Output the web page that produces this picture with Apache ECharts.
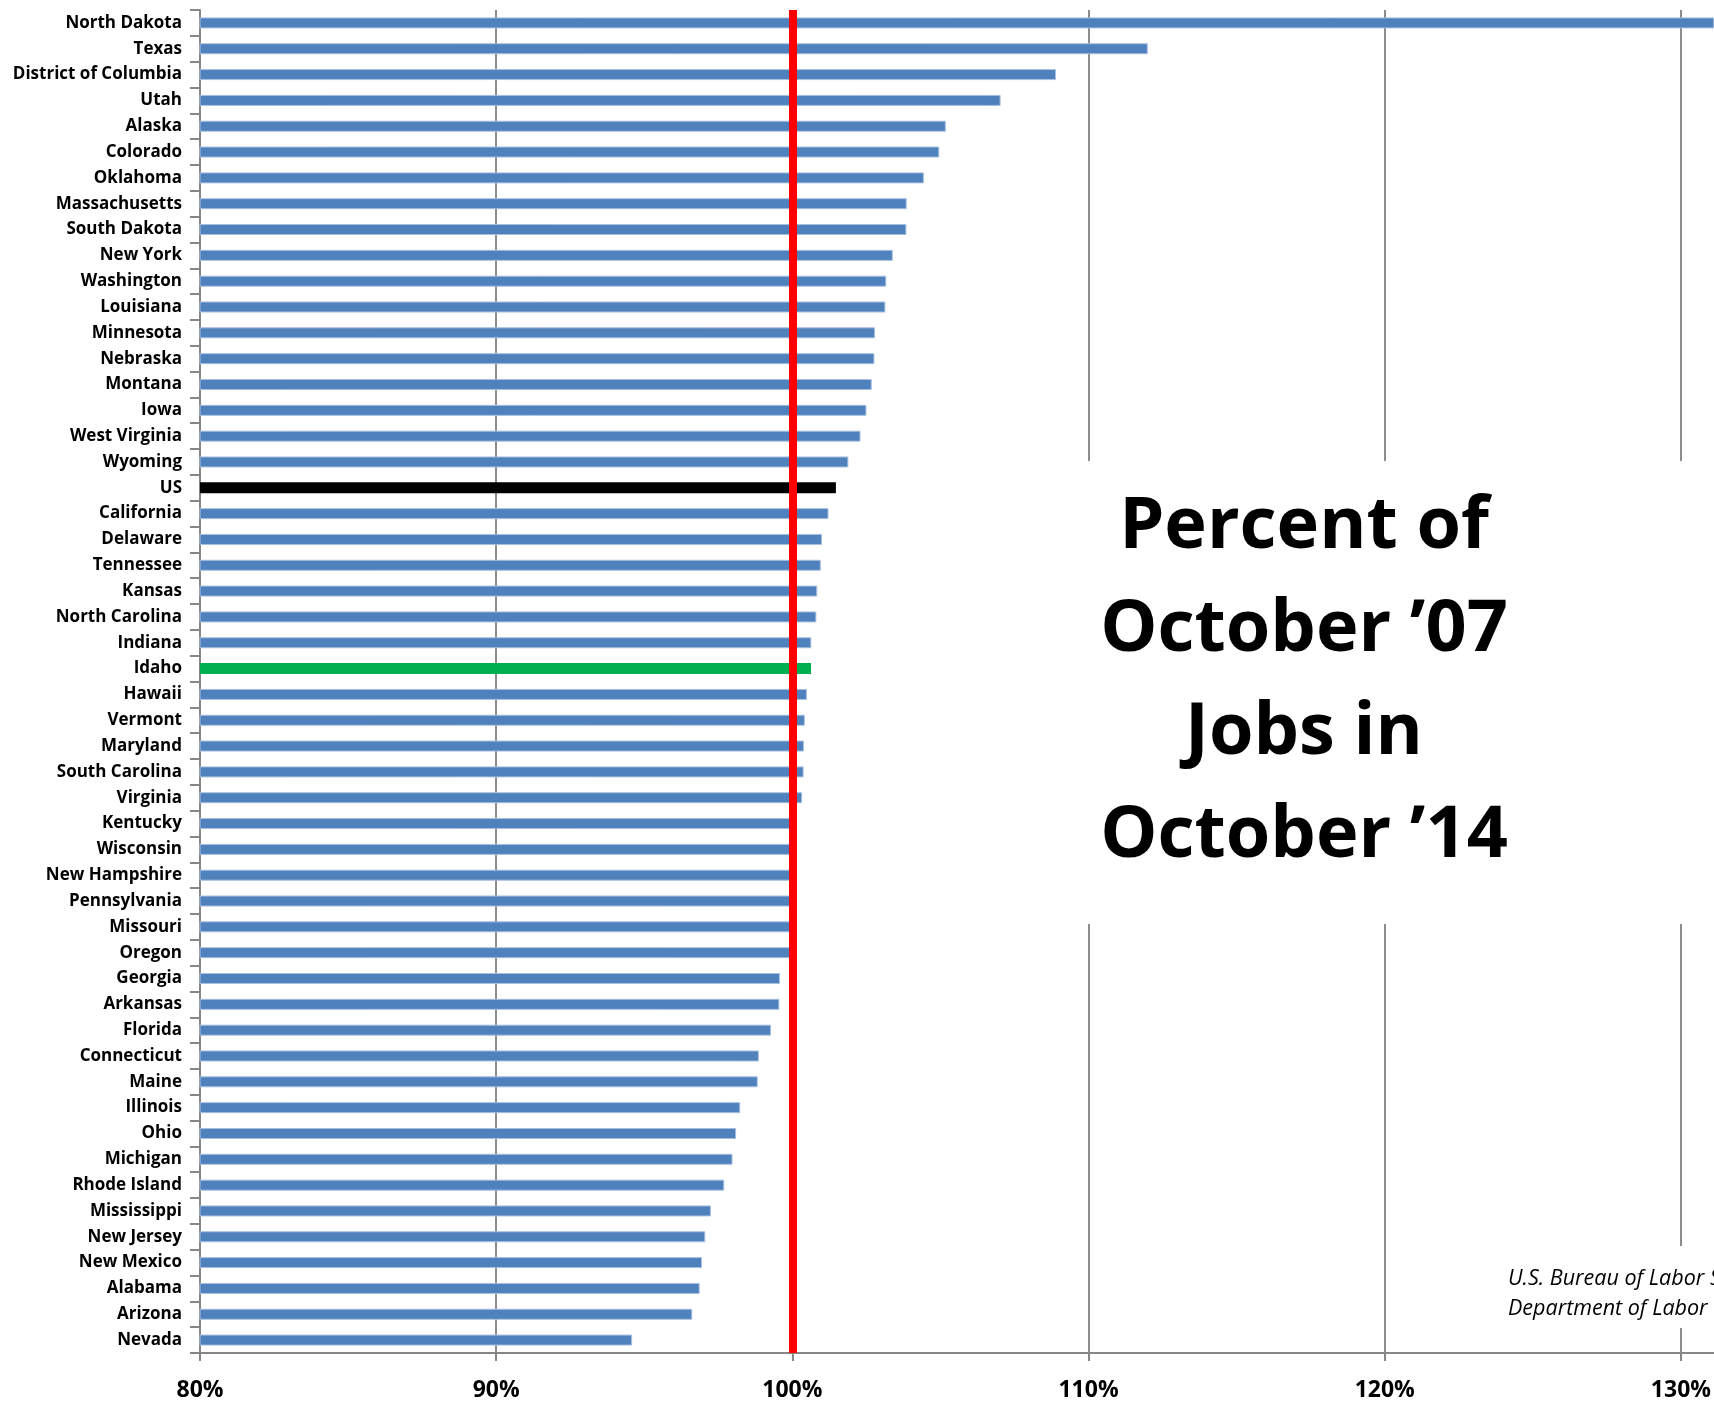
<!DOCTYPE html>
<html>
<head>
<meta charset="utf-8">
<script src="https://cdn.jsdelivr.net/npm/echarts@6/dist/echarts.min.js"></script>
<style>
  html, body { margin: 0; padding: 0; background: #fff; }
  #chart { width: 1714px; height: 1402px; }
</style>
</head>
<body>
<div id="chart"></div>
<script>
const states = [
  'North Dakota', 'Texas', 'District of Columbia', 'Utah', 'Alaska', 'Colorado',
  'Oklahoma', 'Massachusetts', 'South Dakota', 'New York', 'Washington', 'Louisiana',
  'Minnesota', 'Nebraska', 'Montana', 'Iowa', 'West Virginia', 'Wyoming', 'US',
  'California', 'Delaware', 'Tennessee', 'Kansas', 'North Carolina', 'Indiana', 'Idaho',
  'Hawaii', 'Vermont', 'Maryland', 'South Carolina', 'Virginia', 'Kentucky', 'Wisconsin',
  'New Hampshire', 'Pennsylvania', 'Missouri', 'Oregon', 'Georgia', 'Arkansas', 'Florida',
  'Connecticut', 'Maine', 'Illinois', 'Ohio', 'Michigan', 'Rhode Island', 'Mississippi',
  'New Jersey', 'New Mexico', 'Alabama', 'Arizona', 'Nevada'
]

// percent of October 2007 jobs, October 2014
const pctOfOct07 = [
  131.4, 112.0, 108.9, 107.03, 105.18, 104.96,
  104.44, 103.86, 103.85, 103.39, 103.17, 103.14,
  102.79, 102.77, 102.68, 102.5, 102.3, 101.89, 101.47,
  101.22, 101.0, 100.96, 100.84, 100.81, 100.64, 100.63,
  100.49, 100.42, 100.39, 100.38, 100.33, 100.15, 100.08,
  100.04, 100.0, 99.98, 99.95, 99.58, 99.56, 99.28,
  98.87, 98.83, 98.24, 98.1, 97.98, 97.7, 97.25,
  97.06, 96.95, 96.87, 96.62, 94.59
]

const xTicks = [80, 90, 100, 110, 120, 130]
const highlight = { 'US': '#000000', 'Idaho': '#00B050' }
const baseColor = '#4F81BD'

const chart = echarts.init(document.getElementById('chart'))

const option = {
  animation: false,
  backgroundColor: '#ffffff',
  grid: { left: 200, right: 0, top: 10, bottom: 48, containLabel: false },
  xAxis: {
    type: 'value',
    min: 80,
    max: 131.11,
    interval: 10,
    axisLine: { show: true, lineStyle: { color: '#878787', width: 2 } },
    axisTick: { show: true, length: 8, lineStyle: { color: '#878787', width: 2 } },
    axisLabel: {
      margin: 26,
      color: '#000',
      fontFamily: 'Open Sans',
      fontWeight: 'bold',
      fontSize: 23,
      showMaxLabel: false,
      formatter: (v) => xTicks.includes(Math.round(v * 100) / 100) ? v + '%' : ''
    },
    splitLine: { show: true, showMaxLine: false, lineStyle: { color: '#8c8c8c', width: 2 } }
  },
  yAxis: {
    type: 'category',
    data: states,
    inverse: true,
    axisLine: { show: true, lineStyle: { color: '#878787', width: 2 } },
    axisTick: { show: true, length: 10, lineStyle: { color: '#878787', width: 2 } },
    axisLabel: {
      margin: 18,
      color: '#000',
      fontFamily: 'Open Sans',
      fontWeight: 'bold',
      fontSize: 17,
      interval: 0
    },
    splitLine: { show: false }
  },
  series: [{
    type: 'bar',
    barWidth: 11,
    clip: true,
    data: pctOfOct07.map((v, i) => ({
      value: v,
      itemStyle: highlight[states[i]]
        ? { color: highlight[states[i]] }
        : { color: baseColor, borderColor: '#a7bfe0', borderWidth: 1 }
    })),
    markLine: {
      silent: true,
      symbol: 'none',
      label: { show: false },
      lineStyle: { color: '#FF0000', width: 8, type: 'solid' },
      data: [{ xAxis: 100 }]
    }
  }],
  graphic: [
    {
      type: 'rect',
      z: 100,
      shape: { x: 1000, y: 461, width: 714, height: 463 },
      style: { fill: '#ffffff' }
    },
    {
      type: 'text',
      z: 101,
      x: 1304,
      y: 476,
      style: {
        text: 'Percent of\nOctober \u201907\nJobs in\nOctober \u201914',
        fill: '#000',
        font: 'bold 72px "Open Sans"',
        lineHeight: 103,
        align: 'center',
        verticalAlign: 'top'
      }
    },
    {
      type: 'rect',
      z: 100,
      shape: { x: 1490, y: 1246, width: 224, height: 82 },
      style: { fill: '#ffffff' }
    },
    {
      type: 'text',
      z: 101,
      x: 1508,
      y: 1264,
      style: {
        text: 'U.S. Bureau of Labor Statistics\nDepartment of Labor',
        fill: '#000',
        font: 'italic 21.5px "Open Sans"',
        lineHeight: 30,
        align: 'left',
        verticalAlign: 'top'
      }
    }
  ]
}

chart.setOption(option)
</script>
</body>
</html>
